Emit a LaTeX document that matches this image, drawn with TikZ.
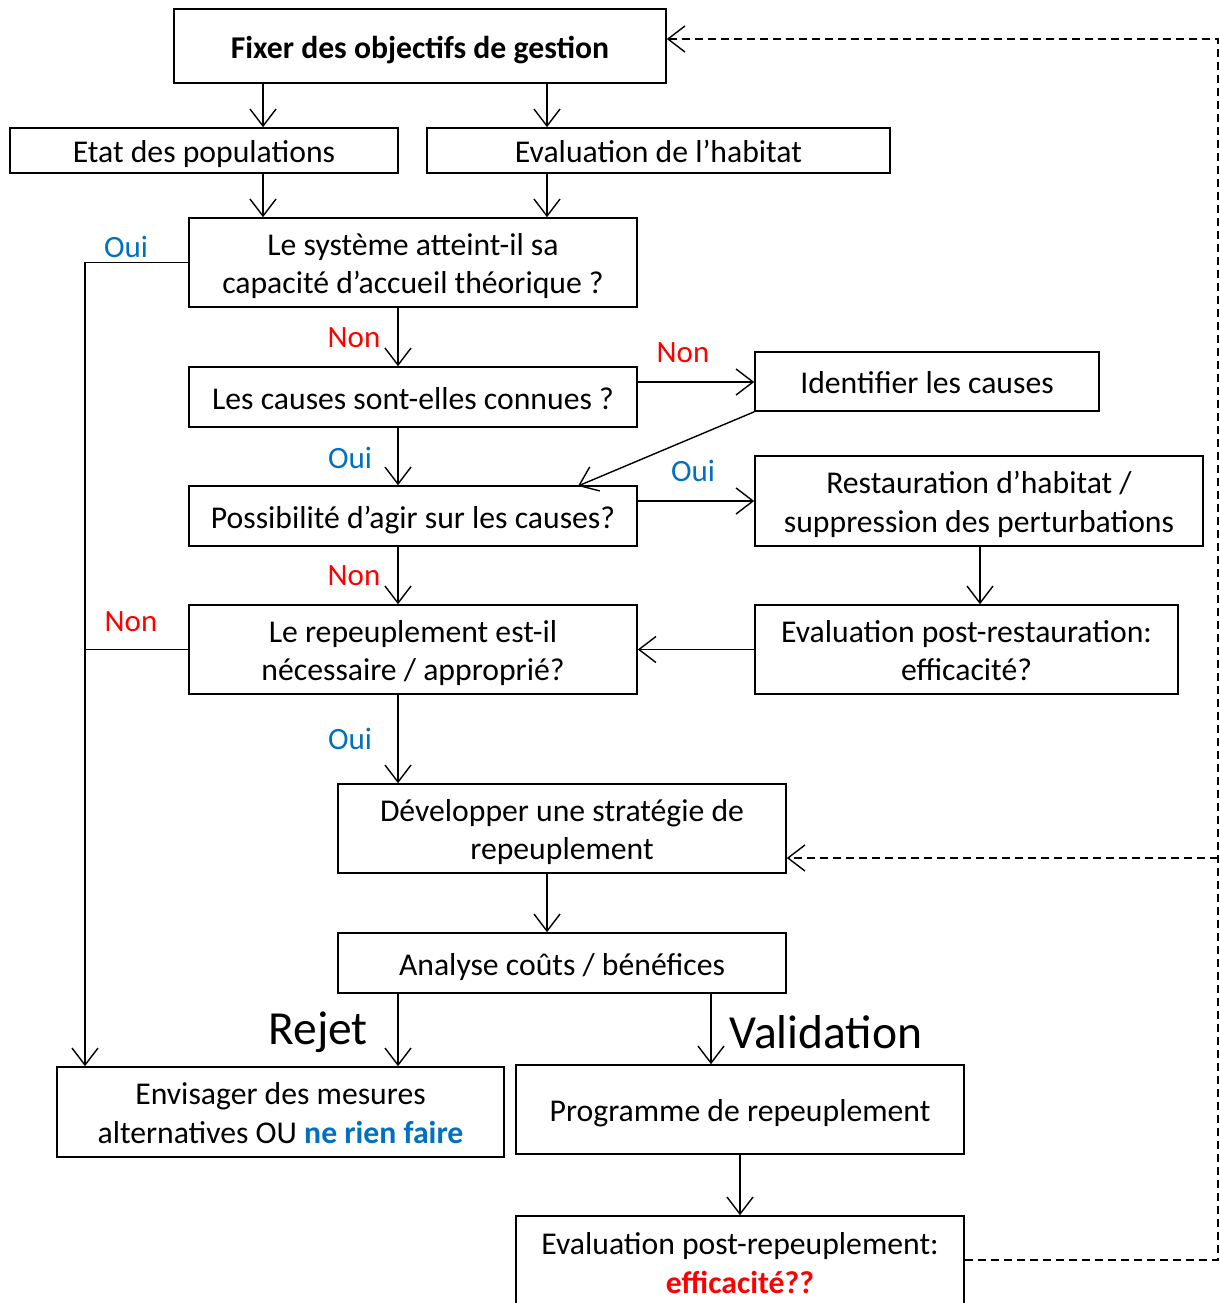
\documentclass[tikz,border=0pt]{standalone}
\usepackage{fontspec}
\setmainfont{Carlito}
\usetikzlibrary{arrows.meta,calc}
\definecolor{oblue}{RGB}{0,112,192}
\definecolor{ored}{RGB}{255,0,0}
% box text: lines on a fixed strut grid, with extra room above the first line
\newcommand\tx[1]{\begin{tabular}{@{}c@{}}\rule{0pt}{36pt}#1\end{tabular}}
\begin{document}
\begin{tikzpicture}[x=1pt,y=-1pt,
  box/.style={draw, line width=1.6pt, inner xsep=0pt, inner ysep=-3pt,
    font=\fontsize{31.7}{38.5}\selectfont},
  arr/.style={line width=1.4pt, -{Straight Barb[length=17pt,width=26pt,line width=1.4pt]}},
  dsh/.style={arr, dash pattern=on 8pt off 5pt},
  lbl/.style={inner sep=0pt, font=\fontsize{31}{34}\selectfont},
  yes/.style={lbl, text=oblue},
  no/.style={lbl, text=ored},
  big/.style={inner sep=0pt, font=\fontsize{47.5}{52}\selectfont}
]
\useasboundingbox (0,0) rectangle (1219,1303);
\clip (0,0) rectangle (1219,1303);

% boxes
\node[box, minimum width=492pt, minimum height=74pt, font=\fontsize{31.7}{38.5}\selectfont\bfseries] (fix) at (420,46) {\tx{Fixer des objectifs de gestion}};
\node[box, minimum width=388pt, minimum height=45pt] (etat) at (204,150.5) {\tx{Etat des populations}};
\node[box, minimum width=463pt, minimum height=45pt] (hab) at (658.5,150.5) {\tx{Evaluation de l’habitat}};
\node[box, minimum width=448pt, minimum height=89pt] (sys) at (413,262.5) {\tx{Le système atteint-il sa\\capacité d’accueil théorique ?}};
\node[box, minimum width=448pt, minimum height=60pt] (cau) at (413,397) {\tx{Les causes sont-elles connues ?}};
\node[box, minimum width=344pt, minimum height=59pt] (ide) at (927,381.5) {\tx{Identifier les causes}};
\node[box, minimum width=448pt, minimum height=60pt] (pos) at (413,516) {\tx{Possibilité d’agir sur les causes?}};
\node[box, minimum width=448pt, minimum height=90pt] (res) at (979,501) {\tx{Restauration d’habitat /\\suppression des perturbations}};
\node[box, minimum width=448pt, minimum height=89pt] (rep) at (413,649.5) {\tx{Le repeuplement est-il\\nécessaire / approprié?}};
\node[box, minimum width=423pt, minimum height=89pt] (epr) at (966.5,649.5) {\tx{Evaluation post-restauration:\\efficacité?}};
\node[box, minimum width=448pt, minimum height=89pt] (dev) at (562,828.5) {\tx{Développer une stratégie de\\repeuplement}};
\node[box, minimum width=448pt, minimum height=60pt] (ana) at (562,963) {\tx{Analyse coûts / bénéfices}};
\node[box, minimum width=447pt, minimum height=90pt] (env) at (280.5,1112) {\tx{Envisager des mesures\\alternatives OU \textcolor{oblue}{\bfseries ne rien faire}}};
\node[box, minimum width=448pt, minimum height=89pt] (pro) at (740,1109.5) {\tx{Programme de repeuplement}};
\node[box, minimum width=448pt, minimum height=92pt] (epp) at (740,1262) {\tx{Evaluation post-repeuplement:\\\textcolor{ored}{\bfseries efficacité??}}};

% guide columns and rows for the connectors
\coordinate (cA) at (263,0);
\coordinate (cB) at (547,0);
\coordinate (cC) at (398,0);
\coordinate (cD) at (980,0);
\coordinate (cE) at (711,0);
\coordinate (cF) at (740,0);
\coordinate (cL) at (85,0);
\coordinate (cR) at (1218,0);
\coordinate (r382) at (0,382);
\coordinate (r501) at (0,501);
\coordinate (r39) at (0,39);
\coordinate (r858) at (0,858);
\coordinate (r1260) at (0,1260);
\coordinate (pin) at (578,486);

% solid connectors
\draw[arr] (fix.south -| cA) -- (etat.north -| cA);
\draw[arr] (fix.south -| cB) -- (hab.north -| cB);
\draw[arr] (etat.south -| cA) -- (sys.north -| cA);
\draw[arr] (hab.south -| cB) -- (sys.north -| cB);
\draw[arr] (sys.south -| cC) -- (cau.north -| cC);
\draw[arr] (cau.east |- r382) -- (ide.west |- r382);
\draw[arr] (ide.south west) -- (pin);
\draw[arr] (cau.south -| cC) -- (pos.north -| cC);
\draw[arr] (pos.east |- r501) -- (res.west |- r501);
\draw[arr] (res.south -| cD) -- (epr.north -| cD);
\draw[arr] (epr.west) -- (rep.east);
\draw[arr] (pos.south -| cC) -- (rep.north -| cC);
\draw[arr] (rep.south -| cC) -- (dev.north -| cC);
\draw[arr] (dev.south -| cB) -- (ana.north -| cB);
\draw[arr] (ana.south -| cC) -- (env.north -| cC);
\draw[arr] (ana.south -| cE) -- (pro.north -| cE);
\draw[arr] (pro.south -| cF) -- (epp.north -| cF);
\draw[arr] (sys.west) -| (env.north -| cL);
\draw[line width=1.4pt] (rep.west) -- (rep.west -| cL);

% dashed feedback loops
\draw[dsh] (epp.east |- r1260) -| (cR |- r39) -- (fix.east |- r39);
\draw[dsh] (cR |- r858) -- (dev.east |- r858);

% branch labels
\node[yes] at (126,247) {Oui};
\node[no] at (354,338) {Non};
\node[no] at (683,353) {Non};
\node[yes] at (350,458) {Oui};
\node[yes] at (693,471) {Oui};
\node[no] at (354,576) {Non};
\node[no] at (131,622) {Non};
\node[yes] at (350,739) {Oui};
\node[big] at (318,1032) {Rejet};
\node[big] at (826,1032) {Validation};
\end{tikzpicture}
\end{document}
